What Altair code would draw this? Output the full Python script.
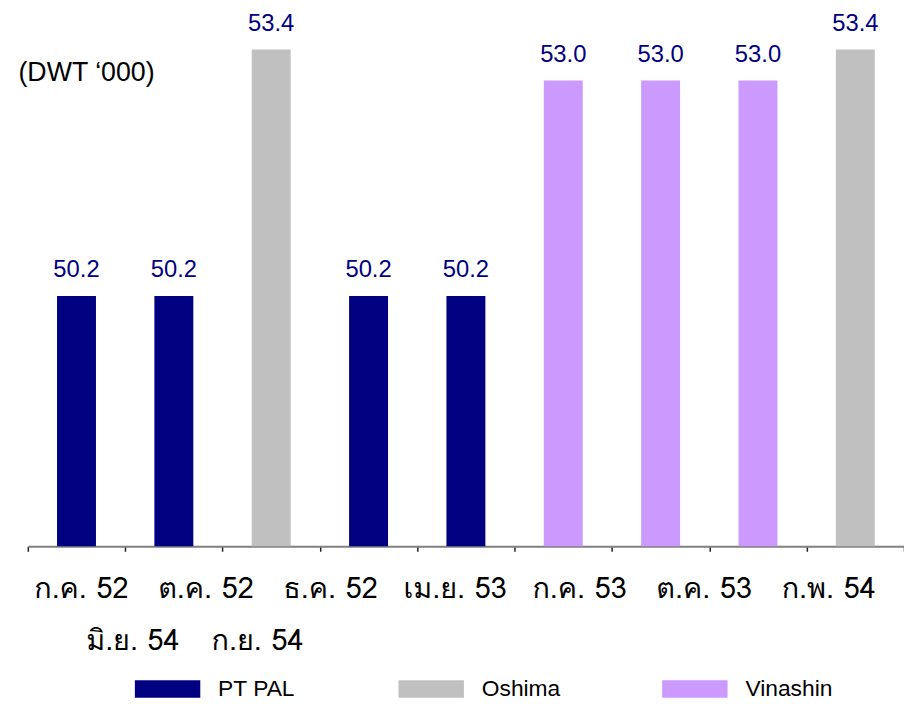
import altair as alt
import pandas as pd

months = ["ก.ค. 52", "ต.ค. 52", "ธ.ค. 52", "เม.ย. 53", "ก.ค. 53",
          "ต.ค. 53", "ก.พ. 54", "มิ.ย. 54", "ก.ย. 54"]
dwt = [50.2, 50.2, 53.4, 50.2, 50.2, 53.0, 53.0, 53.0, 53.4]
yard = ["PT PAL", "PT PAL", "Oshima", "PT PAL", "PT PAL",
        "Vinashin", "Vinashin", "Vinashin", "Oshima"]
yards = ["PT PAL", "Oshima", "Vinashin"]
colors = ["#000080", "#C0C0C0", "#CC99FF"]
y_min, y_max = 46.95, 53.9

bars_df = pd.DataFrame({"month": months, "dwt": dwt, "yard": yard})
per_row = 7
lab_df = pd.DataFrame({
    "label": months,
    "row": [i // per_row for i in range(len(months))],
    "col": [i % per_row for i in range(len(months))],
})

x = alt.X("month:N", sort=months,
          scale=alt.Scale(paddingInner=0, paddingOuter=0),
          axis=alt.Axis(labels=False, title=None, domainColor="#808080",
                        domainWidth=2, tickColor="#202020", tickSize=5,
                        tickWidth=1.5, tickBand="extent", ticks=True,
                        grid=False))
y = alt.Y("dwt:Q",
          scale=alt.Scale(domain=[y_min, y_max], nice=False, zero=False),
          axis=alt.Axis(domain=False, ticks=False, labels=False, grid=False,
                        title="(DWT ‘000)", titleAngle=0, titleAlign="left",
                        titleBaseline="middle", titleX=-10, titleY=62,
                        titleFont="Liberation Sans", titleFontSize=27,
                        titleFontWeight="normal", titleColor="black"))

bars = alt.Chart(bars_df).mark_bar(width=alt.RelativeBandSize(0.4)).encode(
    x=x, y=y, y2=alt.Y2Datum(y_min),
    color=alt.Color("yard:N", scale=alt.Scale(domain=yards, range=colors),
                    legend=alt.Legend(orient="none", legendX=108, legendY=651,
                                      direction="horizontal", title=None,
                                      symbolType="M-1,-0.27H1V0.27H-1Z",
                                      symbolSize=4356, symbolStrokeWidth=0,
                                      symbolOpacity=1, gridAlign="all",
                                      labelFont="Liberation Sans",
                                      labelFontSize=23, labelColor="black",
                                      labelOffset=18, labelLimit=200,
                                      columnPadding=94, padding=0)),
)
values = alt.Chart(bars_df).mark_text(
    baseline="bottom", dy=-14, fontSize=24, font="Liberation Sans",
    color="#000080").encode(x=x, y=y, text=alt.Text("dwt:Q", format=".1f"))

base = alt.layer(bars, values)

lx = alt.X("col:Q", scale=alt.Scale(domain=[0, 6], range=[54, 808]), axis=None)
ly = alt.Y("row:Q", scale=alt.Scale(domain=[0, 1], range=[583, 636]), axis=None)
thai_font = "Loma, Garuda, Noto Sans Thai, Noto Sans, DejaVu Sans"
lab0 = alt.Chart(lab_df).transform_filter("datum.row == 0").mark_text(
    align="center", baseline="middle", fontSize=29, font=thai_font,
    color="black").encode(x=lx, y=ly, text="label:N")
lab1 = alt.Chart(lab_df).transform_filter("datum.row == 1").mark_text(
    align="center", baseline="middle", fontSize=29, font=thai_font,
    color="black", dx=52).encode(x=lx, y=ly, text="label:N")

chart = alt.layer(base, lab0, lab1).resolve_scale(
    x="independent", y="independent"
).properties(
    width=884, height=540,
    autosize=alt.AutoSizeParams(type="none"),
    padding={"left": 20, "top": 0, "right": 0, "bottom": 156},
).configure_view(stroke=None)

chart.save("out.html", embed_options={"renderer": "svg", "actions": False})
